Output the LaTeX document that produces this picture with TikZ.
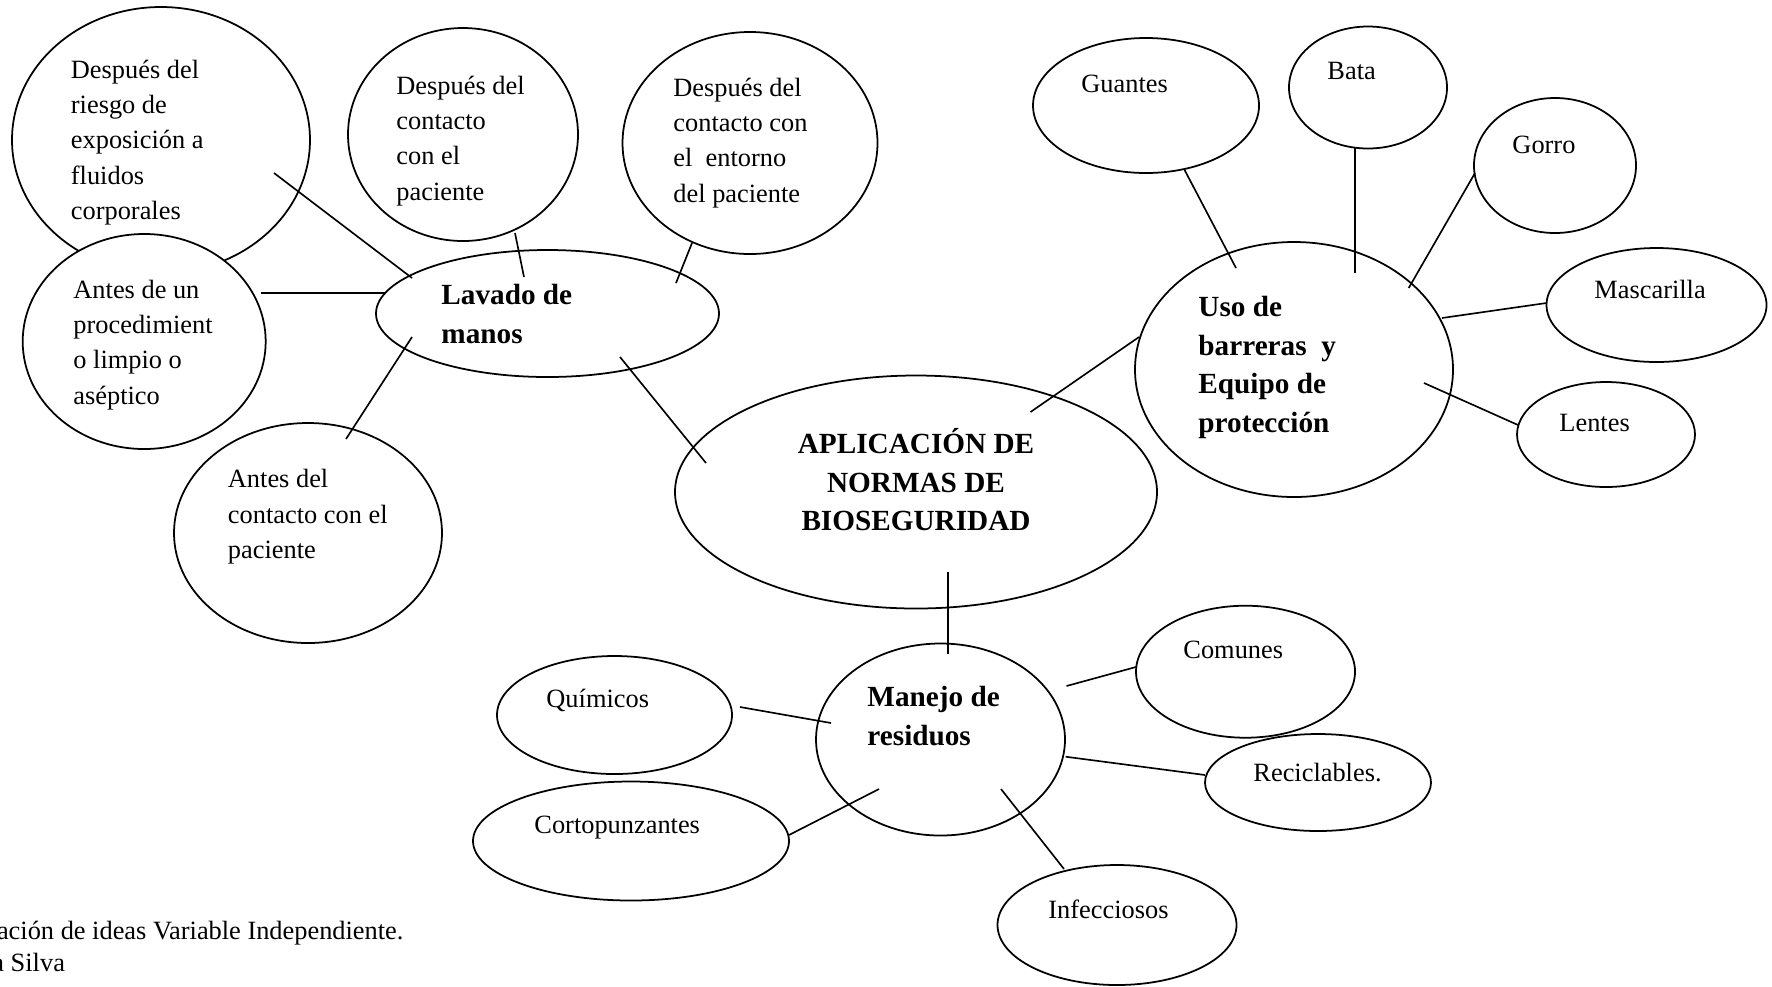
\documentclass[tikz,border=0pt]{standalone}
\usepackage{fontspec}
\setmainfont{Liberation Serif}
\usetikzlibrary{shapes.geometric}
\newcommand\fstrR{\rule{0pt}{10pt}}
\newcommand\fstrB{\rule{0pt}{12.5pt}}
\begin{document}
\begin{tikzpicture}[x=0.455pt,y=-0.455pt,
  bub/.style 2 args={ellipse, draw, line width=0.8pt, fill=white, inner sep=0pt,
    minimum width={#1*0.91pt}, minimum height={#2*0.91pt}},
  con/.style={line width=0.75pt},
  txt/.style={inner sep=0pt, anchor=north west, align=left,
    font=\fontsize{12}{16.05}\selectfont},
  btxt/.style={inner sep=0pt, anchor=north west, align=left,
    font=\bfseries\fontsize{13.3}{17.5}\selectfont},
  ctxt/.style={btxt, anchor=north, align=center},
  captxt/.style={inner sep=0pt, anchor=north west, align=left,
    font=\fontsize{12}{13.8}\selectfont},
]
\clip (0,0) rectangle (1772,986);

% ellipses
\node[bub={149}{133}] (eA) at (161,140) {};
\node[bub={121.5}{107.5}] (eB) at (144.2,341.5) {};
\node[bub={115}{106.5}] (eC) at (463,134.5) {};
\node[bub={127.5}{111}] (eD) at (750,143) {};
\node[bub={171.5}{63.5}] (eL) at (547.5,313.5) {};
\node[bub={134}{110}] (eE) at (308,533) {};
\node[bub={241}{116.5}] (eM) at (916,492) {};
\node[bub={159}{127.5}] (eU) at (1294,369.5) {};
\node[bub={113}{67.5}] (eG) at (1146,105.5) {};
\node[bub={79}{61}] (eBa) at (1368,87.5) {};
\node[bub={81}{67.5}] (eGo) at (1555,165.5) {};
\node[bub={110}{57}] (eMa) at (1656.5,305) {};
\node[bub={89}{52.5}] (eLe) at (1606,434.5) {};
\node[bub={124.5}{96}] (eR) at (940.5,739.5) {};
\node[bub={117.5}{59}] (eQ) at (614.5,715) {};
\node[bub={158}{59.5}] (eCo) at (631,841) {};
\node[bub={109.5}{66}] (eCm) at (1245.5,671.7) {};
\node[bub={113}{48.5}] (eRc) at (1318,782.5) {};
\node[bub={119.5}{60}] (eI) at (1117,925) {};

% connector end points
\coordinate (c1a) at (274,173);    \coordinate (c1b) at (412,278);
\coordinate (c2a) at (261,293);    \coordinate (c2b) at (386,293);
\coordinate (c3a) at (515,233);    \coordinate (c3b) at (524,277);
\coordinate (c4a) at (692,243);    \coordinate (c4b) at (676,283);
\coordinate (c5a) at (346,439);    \coordinate (c5b) at (412,337);
\coordinate (c6a) at (620,357);    \coordinate (c6b) at (706,463);
\coordinate (c7a) at (1030.5,412); \coordinate (c7b) at (1139,337);
\coordinate (c8a) at (1184.6,170); \coordinate (c8b) at (1236,268);
\coordinate (c9a) at (1355,147);   \coordinate (c9b) at (1355,273);
\coordinate (c10a) at (1475,173);  \coordinate (c10b) at (1408.7,288);
\coordinate (c11a) at (1546.5,303);\coordinate (c11b) at (1442,318);
\coordinate (c12a) at (1518,425);  \coordinate (c12b) at (1424,383);
\coordinate (c13a) at (948,572);   \coordinate (c13b) at (948,654);
\coordinate (c14a) at (740,707);   \coordinate (c14b) at (831,723);
\coordinate (c15a) at (789,835);   \coordinate (c15b) at (879,789);
\coordinate (c16a) at (1137,666.7);\coordinate (c16b) at (1066.5,686);
\coordinate (c17a) at (1205,775);  \coordinate (c17b) at (1065.6,756.7);
\coordinate (c18a) at (1064,869);  \coordinate (c18b) at (1001,789);

\foreach \i in {1,...,18} {\draw[con] (c\i a) -- (c\i b);}

% texts
\node[txt] (tA) at (70.5,56) {\fstrR Después del\\riesgo de\\exposición a\\fluidos\\corporales};
\node[txt] (tC) at (396,72) {\fstrR Después del\\contacto\\con el\\paciente};
\node[txt] (tD) at (673,74) {\fstrR Después del\\contacto con\\el\ \ entorno\\del paciente};
\node[txt] (tB) at (73,276) {\fstrR Antes de un\\procedimient\\o limpio o\\aséptico};
\node[btxt] (tL) at (441,277) {\fstrB Lavado de\\manos};
\node[txt] (tE) at (227.5,465.5) {\fstrR Antes del\\contacto con el\\paciente};
\node[ctxt] (tM) at (916,426) {\fstrB APLICACIÓN DE\\NORMAS DE\\BIOSEGURIDAD};
\node[btxt] (tU) at (1198,289) {\fstrB Uso de\\barreras\ \ y\\Equipo de\\protección};
\node[btxt] (tR) at (867,679) {\fstrB Manejo de\\residuos};
\node[txt] (tG) at (1081,70) {\fstrR Guantes};
\node[txt] (tBa) at (1327,57) {\fstrR Bata};
\node[txt] (tGo) at (1512,131) {\fstrR Gorro};
\node[txt] (tMa) at (1594,276) {\fstrR Mascarilla};
\node[txt] (tLe) at (1559,409) {\fstrR Lentes};
\node[txt] (tQ) at (546,685) {\fstrR Químicos};
\node[txt] (tCo) at (534,811) {\fstrR Cortopunzantes};
\node[txt] (tCm) at (1183,636) {\fstrR Comunes};
\node[txt] (tRc) at (1253,759) {\fstrR Reciclables.};
\node[txt] (tI) at (1048,896) {\fstrR Infecciosos};
\node[captxt] (cap1) at (-3.4,917) {\fstrR ación de ideas Variable Independiente.};
\node[captxt] (cap2) at (-8,949) {\fstrR a Silva};
\end{tikzpicture}
\end{document}
